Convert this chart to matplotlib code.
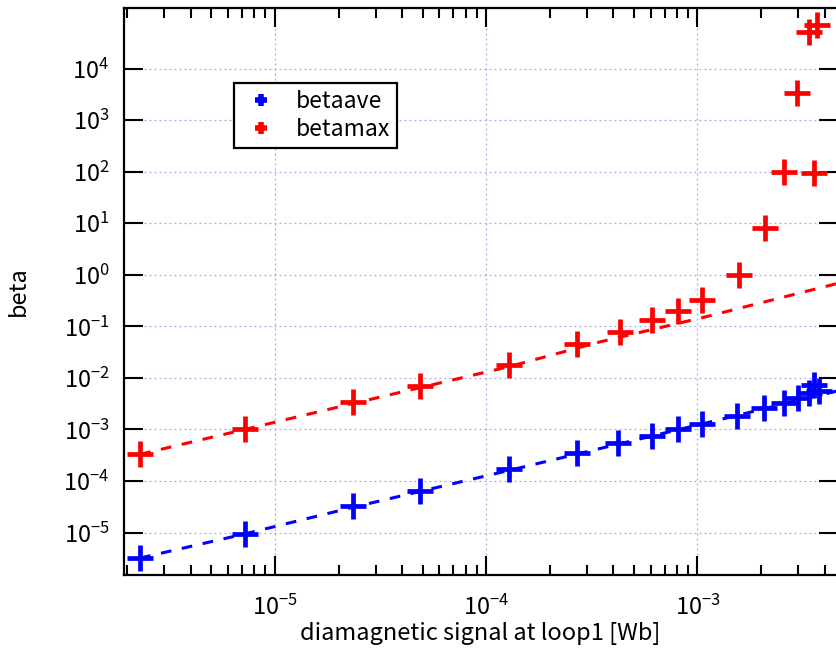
import numpy as np
import matplotlib
matplotlib.use("Agg")
import matplotlib.pyplot as plt
from matplotlib.ticker import LogLocator, FixedLocator, NullFormatter

plt.rcParams['font.family'] = ['Noto Sans CJK JP', 'DejaVu Sans']
plt.rcParams['mathtext.fontset'] = 'custom'
plt.rcParams['mathtext.rm'] = 'Noto Sans CJK JP'
plt.rcParams['axes.unicode_minus'] = False

# betamax (red) measured points
max_x = [2.29e-6, 7.2e-6, 2.35e-5, 4.86e-5, 1.28e-4, 2.7e-4, 4.3e-4, 6.1e-4, 8.1e-4,
         1.05e-3, 1.57e-3, 2.09e-3, 2.56e-3, 2.96e-3, 3.36e-3, 3.55e-3, 3.68e-3]
max_y = [3.3e-4, 1.0e-3, 3.4e-3, 6.9e-3, 1.8e-2, 4.5e-2, 7.8e-2, 0.13, 0.2,
         0.32, 1.0, 8.2, 100, 3.4e3, 5.2e4, 93, 6.9e4]
# betaave (blue) measured points
ave_x = [2.29e-6, 7.2e-6, 2.35e-5, 4.86e-5, 1.28e-4, 2.7e-4, 4.2e-4, 6.1e-4, 8.1e-4,
         1.05e-3, 1.54e-3, 2.06e-3, 2.56e-3, 3.0e-3, 3.36e-3, 3.55e-3, 3.75e-3]
ave_y = [3.2e-6, 9.4e-6, 3.2e-5, 6.4e-5, 1.7e-4, 3.5e-4, 5.5e-4, 7.4e-4, 1.0e-3,
         1.26e-3, 1.8e-3, 2.6e-3, 3.3e-3, 4.1e-3, 5.1e-3, 7.4e-3, 5.5e-3]
# fitted curves (dashed)
fit_max_x = [2.3e-6, 7.2e-6, 2.35e-5, 1.28e-4, 3.46e-4, 1.07e-3, 4.6e-3]
fit_max_y = [3.3e-4, 1.0e-3, 3.2e-3, 1.65e-2, 5.0e-2, 0.15, 0.68]
fit_ave_x = [2.3e-6, 7.2e-6, 2.35e-5, 1.28e-4, 1.07e-3, 4.6e-3]
fit_ave_y = [3.2e-6, 9.4e-6, 3.1e-5, 1.6e-4, 1.3e-3, 5.6e-3]

fig = plt.figure(figsize=(8.37, 6.52), dpi=100)
ax = fig.add_axes([0.1476, 0.1181, 0.853, 0.8696])

dash = (0, (3.5, 3.5))
ax.plot(fit_max_x, fit_max_y, color='#ff0000', lw=2.2, linestyle=dash)
ax.plot(fit_ave_x, fit_ave_y, color='#0000ff', lw=2.2, linestyle=dash)
ax.plot(ave_x, ave_y, linestyle='none', marker='+', ms=19, mew=3.4,
        color='#0000ff', label='betaave')
ax.plot(max_x, max_y, linestyle='none', marker='+', ms=19, mew=3.4,
        color='#ff0000', label='betamax')

ax.set_xscale('log')
ax.set_yscale('log')
ax.set_xlim(1.92e-6, 4.6e-3)
ax.set_ylim(1.5e-6, 1.5e5)

ax.yaxis.set_major_locator(FixedLocator([10.0**k for k in range(-5, 5)]))
ax.yaxis.set_minor_locator(FixedLocator([]))
ax.xaxis.set_major_locator(FixedLocator([1e-5, 1e-4, 1e-3]))
ax.xaxis.set_minor_locator(LogLocator(base=10, subs=np.arange(2, 10), numticks=20))
ax.xaxis.set_minor_formatter(NullFormatter())

ax.tick_params(which='both', direction='in', top=True, right=True, width=1.5,
               labelsize=17, colors='black')
ax.tick_params(which='major', length=14)
ax.tick_params(which='minor', length=7)
ax.tick_params(axis='x', which='major', pad=14)
ax.tick_params(axis='y', which='major', pad=10)
for s in ax.spines.values():
    s.set_linewidth(1.6)

ax.grid(True, which='major', color='#a8a8e0', lw=0.9, linestyle=(0, (1.5, 2.5)))
ax.set_axisbelow(True)

ax.set_xlabel('diamagnetic signal at loop1 [Wb]', fontsize=17, labelpad=2)
ax.set_ylabel('beta', fontsize=17, labelpad=24)

leg = ax.legend(loc='upper left', bbox_to_anchor=(0.155, 0.868), borderaxespad=0,
                fancybox=False, framealpha=1, edgecolor='black', fontsize=16.5,
                handlelength=1.7, handletextpad=0.7, borderpad=0.3, labelspacing=0.22)
leg.get_frame().set_linewidth(1.6)
for h in leg.legend_handles:
    h.set_markersize(9)
    h.set_markeredgewidth(4)

fig.savefig('out.png', dpi=100)
